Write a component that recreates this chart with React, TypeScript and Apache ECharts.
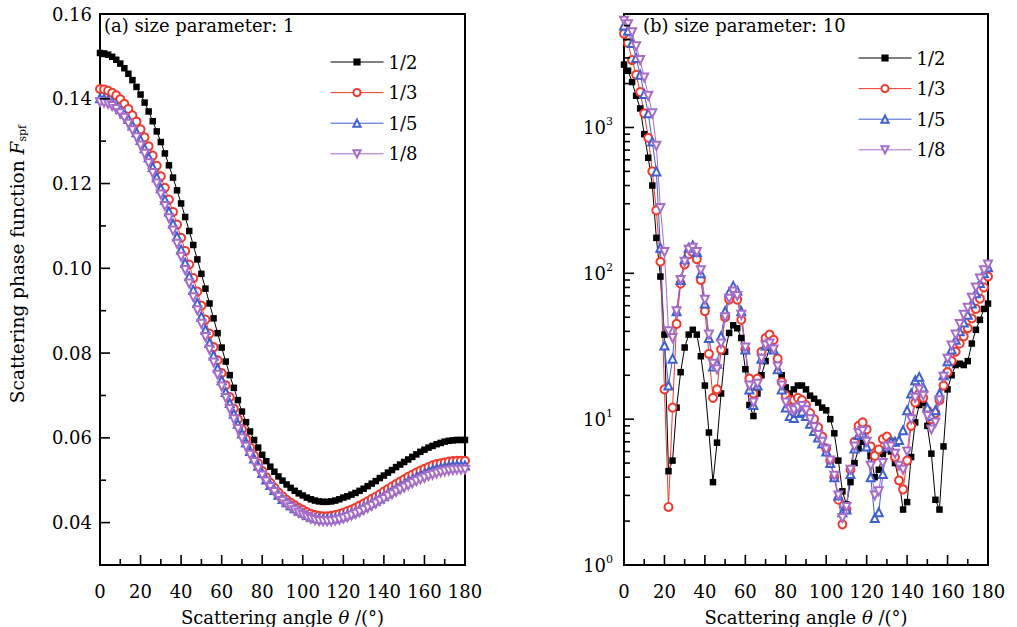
import React, { useEffect, useRef } from 'react';
import * as echarts from 'echarts';

const angles = [0,2,4,6,8,10,12,14,16,18,20,22,24,26,28,30,32,34,36,38,40,42,44,46,48,50,52,54,56,58,60,62,64,66,68,70,72,74,76,78,80,82,84,86,88,90,92,94,96,98,100,102,104,106,108,110,112,114,116,118,120,122,124,126,128,130,132,134,136,138,140,142,144,146,148,150,152,154,156,158,160,162,164,166,168,170,172,174,176,178,180];

const seriesNames = ['1/2', '1/3', '1/5', '1/8'];

// (a) size parameter 1
const a_half = [.1508,.1507,.1504,.1499,.1492,.1483,.1472,.1459,.1444,.1428,.1410,.1391,.1370,.1347,.1323,.1298,.1271,.1243,.1214,.1184,.1153,.1121,.1088,.1055,.1021,.0987,.0952,.0917,.0882,.0847,.0813,.0780,.0748,.0718,.0689,.0662,.0637,.0615,.0595,.0577,.0560,.0545,.0532,.0520,.0509,.0499,.0490,.0482,.0475,.0469,.0464,.0459,.0455,.0452,.0450,.0449,.0449,.0450,.0452,.0455,.0459,.0462,.0466,.0470,.0475,.0480,.0486,.0492,.0498,.0505,.0511,.0518,.0524,.0531,.0537,.0543,.0549,.0555,.0561,.0567,.0572,.0577,.0581,.0585,.0588,.0591,.0593,.0594,.0595,.0595,.0595];
const a_third = [.1423,.1422,.1419,.1414,.1408,.1399,.1388,.1376,.1361,.1346,.1328,.1309,.1288,.1266,.1242,.1217,.1190,.1162,.1133,.1103,.1072,.1041,.1009,.0977,.0945,.0912,.0879,.0846,.0814,.0783,.0753,.0724,.0696,.0669,.0644,.0620,.0597,.0577,.0558,.0540,.0522,.0507,.0494,.0482,.0471,.0462,.0454,.0447,.0441,.0435,.0430,.0425,.0421,.0418,.0416,.0415,.0415,.0416,.0418,.0420,.0423,.0427,.0431,.0435,.0440,.0445,.0450,.0456,.0461,.0467,.0473,.0479,.0485,.0491,.0497,.0502,.0508,.0513,.0518,.0523,.0527,.0531,.0535,.0538,.0540,.0542,.0544,.0545,.0546,.0546,.0546];
const a_fifth = [.1401,.1400,.1397,.1392,.1385,.1376,.1365,.1352,.1337,.1321,.1303,.1283,.1262,.1239,.1215,.1189,.1162,.1134,.1105,.1075,.1044,.1013,.0981,.0949,.0918,.0886,.0855,.0824,.0794,.0764,.0736,.0708,.0682,.0657,.0633,.0610,.0589,.0569,.0551,.0534,.0517,.0502,.0489,.0477,.0466,.0456,.0448,.0441,.0434,.0428,.0423,.0418,.0414,.0411,.0409,.0408,.0408,.0409,.0410,.0412,.0415,.0419,.0422,.0426,.0431,.0436,.0441,.0446,.0452,.0457,.0463,.0469,.0475,.0480,.0486,.0491,.0497,.0502,.0507,.0512,.0516,.0520,.0524,.0527,.0529,.0531,.0533,.0534,.0535,.0535,.0535];
const a_eighth = [.1392,.1391,.1388,.1383,.1376,.1366,.1355,.1341,.1326,.1309,.1290,.1270,.1248,.1225,.1200,.1174,.1147,.1118,.1089,.1058,.1027,.0996,.0964,.0932,.0901,.0869,.0838,.0808,.0778,.0749,.0721,.0694,.0668,.0644,.0621,.0599,.0579,.0560,.0543,.0527,.0511,.0497,.0484,.0472,.0461,.0451,.0443,.0436,.0429,.0423,.0418,.0413,.0409,.0406,.0404,.0403,.0403,.0403,.0405,.0407,.0410,.0413,.0417,.0421,.0425,.0430,.0435,.0440,.0445,.0451,.0456,.0462,.0467,.0473,.0478,.0483,.0488,.0493,.0498,.0502,.0506,.0510,.0513,.0516,.0519,.0521,.0523,.0524,.0525,.0525,.0525];

// (b) size parameter 10
const b_half = [2700,2450,2050,1650,1350,900,620,400,175,95,38,4.4,5.2,12,21,31,38,41,38,27,17,8.1,3.7,6.9,15,29,39,44,42,36,22,12.5,10.5,15,20,25,31,30,25,20,16.5,15,16,17,17,16,14.5,13.8,13,12,11.5,10,8,5.2,3.2,2.6,3.7,5,6.3,7,6.8,5.6,4,4.5,5.8,6.2,6,5,3.8,2.4,2.7,5.5,9.5,12.5,13,9,5.8,2.8,2.4,6.5,16,20,23.5,24,23.5,25,33,41,48,57,62];
const b_third = [4400,3800,2900,2300,1750,1250,850,500,270,120,16,2.5,12,45,85,115,135,140,125,90,55,28,14,16,30,50,66,72,66,48,30,19,15,19,29,36,38,35,26,18,14.5,13.5,13.5,14,13.5,12.5,11,10,8.8,7.6,6.3,5.2,4,2.8,1.9,2.4,4.5,7,9,9.5,8.5,6.5,5.6,6.2,7.3,7.6,7,5.5,3.8,3.3,5.2,9,13,15,14,11.5,10,11,13.5,17,21,25,29,33,37,42,49,57,67,80,95];
const b_fifth = [5000,4600,3800,3000,2300,1700,1250,800,500,150,32,17,26,55,90,125,150,155,140,100,62,36,23,24,37,55,74,82,76,55,30,16,12.5,17,26,32,33,30,22,16,12,10.5,10.2,11,11.3,10.5,9.3,8.3,7.5,6.8,6,5,4,3,2.3,2.4,4.2,6.3,7.8,8,6.5,4,2.1,2.3,4.2,6.5,7,7,7.2,8.4,11.5,15,18.5,19.5,16.5,12,10.5,11.5,15,20,25,30,35,40,46,52,62,73,86,100,110];
const b_eighth = [5400,5100,4500,3600,2900,2200,1650,1250,750,280,140,40,36,55,90,120,145,150,140,105,66,38,24,22,33,50,67,75,70,52,31,17,13,17.5,26,32,33,30,23,17,13,11.7,11.5,12,12.3,11.5,10,8.8,7.8,7,6.2,5.2,4.1,3,2.1,2.5,4.5,6.5,8,8.3,7,4.8,3,3.2,5,6.5,6.5,5.8,4.8,4.5,6,10,14,16,14.5,10.5,8.5,9.5,13.5,19.5,26,32,38,45,52,58,68,80,92,105,115];

// tick positions
const xMajorTicks = [0, 20, 40, 60, 80, 100, 120, 140, 160, 180];
const xMinorTicks = [10, 30, 50, 70, 90, 110, 130, 150, 170];
const aMajorTicks = [0.04, 0.06, 0.08, 0.10, 0.12, 0.14, 0.16];
const aMinorTicks = [0.05, 0.07, 0.09, 0.11, 0.13, 0.15];
const bMajorTicks = [1, 10, 100, 1000];
const bMinorTicks = [2,3,4,5,6,7,8,9,20,30,40,50,60,70,80,90,200,300,400,500,600,700,800,900,2000,3000,4000,5000];

const FONT = 'DejaVu Serif';
const COLORS = ['#000000', '#ee3b2e', '#3f5fce', '#a66cc8'];
const SYMBOLS = ['rect', 'emptyCircle', 'emptyTriangle', 'emptyTriangle'];
const SIZES = [6.5, 8, 8, 8];
const ROTATES = [0, 0, 0, 180];
const MAJOR_LEN = 10;
const MINOR_LEN = 6;

function pairs(ys: number[]) {
  return angles.map((a, i) => [a, ys[i]]);
}

function lineSeries(name: string, idx: number, ys: number[], grid: number, yIdx: number) {
  return {
    type: 'line',
    name,
    xAxisIndex: grid,
    yAxisIndex: yIdx,
    data: pairs(ys),
    symbol: SYMBOLS[idx],
    symbolSize: SIZES[idx],
    symbolRotate: ROTATES[idx],
    showAllSymbol: true,
    color: COLORS[idx],
    itemStyle: { color: COLORS[idx], borderWidth: idx === 0 ? 0 : 1 },
    lineStyle: { color: COLORS[idx], width: 1 },
    emphasis: { disabled: true },
  };
}

// tick marks drawn through the axes' own scales
function tickSeries(grid: number, yIdx: number, yMin: number, yTicksMajor: number[], yTicksMinor: number[]) {
  const data: number[][] = [];
  xMajorTicks.forEach((v) => data.push([v, yMin, MAJOR_LEN, 0]));
  xMinorTicks.forEach((v) => data.push([v, yMin, MINOR_LEN, 0]));
  yTicksMajor.forEach((v) => data.push([0, v, MAJOR_LEN, 1]));
  yTicksMinor.forEach((v) => data.push([0, v, MINOR_LEN, 1]));
  return {
    type: 'custom',
    xAxisIndex: grid,
    yAxisIndex: yIdx,
    silent: true,
    clip: false,
    z: 5,
    data,
    renderItem: (_params: any, api: any) => {
      const p = api.coord([api.value(0), api.value(1)]);
      const len = api.value(2);
      const horiz = api.value(3) === 1;
      return {
        type: 'line',
        shape: horiz
          ? { x1: p[0], y1: p[1], x2: p[0] + len, y2: p[1] }
          : { x1: p[0], y1: p[1], x2: p[0], y2: p[1] - len },
        style: { stroke: '#000', lineWidth: 1.6 },
      };
    },
  };
}

export default function App() {
  const ref = useRef<HTMLDivElement>(null);
  useEffect(() => {
    if (!ref.current) return;
    const chart = echarts.init(ref.current, undefined, { renderer: 'svg' });
    const textBase = { fontFamily: FONT, fontSize: 18, color: '#000' };
    const xAxisCommon = {
      type: 'value',
      min: 0,
      max: 180,
      interval: 20,
      name: 'Scattering angle {i|θ} /(°)',
      nameLocation: 'middle',
      nameGap: 43,
      nameTextStyle: { ...textBase, rich: { i: { fontFamily: FONT, fontSize: 18, fontStyle: 'italic', color: '#000' } } },
      axisLine: { show: true, lineStyle: { color: '#000', width: 2 } },
      axisTick: { show: false },
      minorTick: { show: false },
      axisLabel: { ...textBase, margin: 17 },
      splitLine: { show: false },
    };
    const gridCommon = {
      top: 14, height: 551, show: true, borderColor: '#000', borderWidth: 2,
      backgroundColor: 'transparent', containLabel: false, outerBoundsMode: 'none',
    };
    const option = {
      animation: false,
      backgroundColor: '#fff',
      grid: [
        { ...gridCommon, left: 100, width: 365 },
        { ...gridCommon, left: 624, width: 364 },
      ],
      xAxis: [
        { ...xAxisCommon, gridIndex: 0 },
        { ...xAxisCommon, gridIndex: 1 },
      ],
      yAxis: [
        {
          type: 'value', gridIndex: 0, min: 0.03, max: 0.16,
          axisLine: { show: true, lineStyle: { color: '#000', width: 2 } },
          axisTick: { show: false },
          axisLabel: { ...textBase, margin: 8, customValues: aMajorTicks, formatter: (v: number) => v.toFixed(2) },
          splitLine: { show: false },
        },
        {
          type: 'log', logBase: 10, gridIndex: 1, min: 1, max: 6000,
          axisLine: { show: true, lineStyle: { color: '#000', width: 2 } },
          axisTick: { show: false },
          axisLabel: {
            ...textBase, margin: 11,
            formatter: (v: number) => {
              const l = Math.log10(v);
              const e = Math.round(l);
              if (Math.abs(l - e) > 1e-6) return '';
              return `{b|10}{s|${e}}`;
            },
            rich: {
              b: { fontFamily: FONT, fontSize: 18, lineHeight: 22, color: '#000' },
              s: { fontFamily: FONT, fontSize: 11, lineHeight: 12, verticalAlign: 'top', color: '#000' },
            },
          },
          splitLine: { show: false },
          minorTick: { show: false },
        },
      ],
      legend: [
        {
          left: 330, top: 53, padding: 0, orient: 'vertical', itemWidth: 53, itemHeight: 9, itemGap: 12.6,
          lineStyle: { width: 1 },
          textStyle: { ...textBase }, data: seriesNames, selectedMode: false,
        },
        {
          left: 858, top: 49, padding: 0, orient: 'vertical', itemWidth: 53, itemHeight: 9, itemGap: 12.6,
          lineStyle: { width: 1 },
          textStyle: { ...textBase }, data: seriesNames, selectedMode: false,
        },
      ],
      graphic: [
        { type: 'text', left: 104, top: 16, style: { text: '(a) size parameter: 1', fontFamily: FONT, fontSize: 18, fill: '#000' } },
        { type: 'text', left: 643, top: 16, style: { text: '(b) size parameter: 10', fontFamily: FONT, fontSize: 18, fill: '#000' } },
        {
          type: 'text', x: 17, y: 264, rotation: Math.PI / 2,
          style: {
            text: 'Scattering phase function {i|F}{s|spf}',
            fontFamily: FONT, fontSize: 18.5, fill: '#000', align: 'center', verticalAlign: 'middle',
            rich: {
              i: { fontFamily: FONT, fontSize: 18.5, fontStyle: 'italic', lineHeight: 22, fill: '#000' },
              s: { fontFamily: FONT, fontSize: 11, lineHeight: 12, verticalAlign: 'bottom', fill: '#000' },
            },
          },
        },
      ],
      series: [
        lineSeries(seriesNames[0], 0, a_half, 0, 0),
        lineSeries(seriesNames[1], 1, a_third, 0, 0),
        lineSeries(seriesNames[2], 2, a_fifth, 0, 0),
        lineSeries(seriesNames[3], 3, a_eighth, 0, 0),
        lineSeries(seriesNames[0], 0, b_half, 1, 1),
        lineSeries(seriesNames[1], 1, b_third, 1, 1),
        lineSeries(seriesNames[2], 2, b_fifth, 1, 1),
        lineSeries(seriesNames[3], 3, b_eighth, 1, 1),
        tickSeries(0, 0, 0.03, aMajorTicks, aMinorTicks),
        tickSeries(1, 1, 1, bMajorTicks, bMinorTicks),
      ],
    };
    chart.setOption(option as any);
    return () => chart.dispose();
  }, []);
  return <div ref={ref} style={{ position: 'fixed', left: 0, top: 0, width: 1017, height: 627, background: '#fff' }} />;
}
